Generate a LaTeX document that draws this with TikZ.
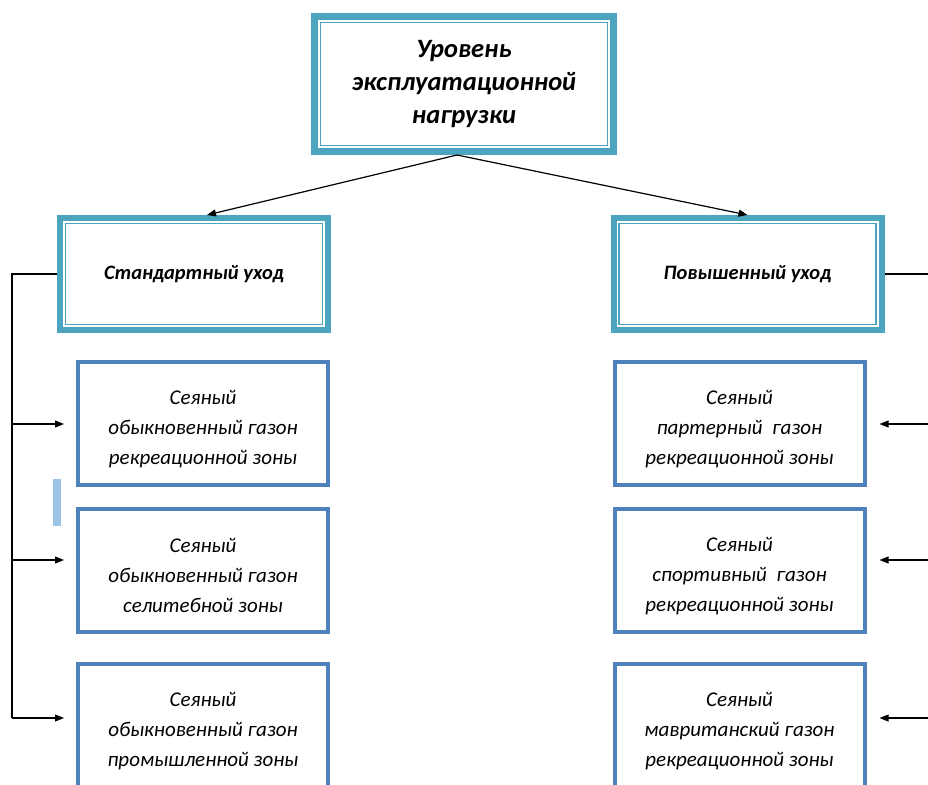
\documentclass[tikz,border=0pt]{standalone}
\usepackage{fontspec}
\setmainfont{Carlito}
\usetikzlibrary{arrows.meta}
\definecolor{tealA}{HTML}{4BA5BF}
\definecolor{blueA}{HTML}{4F81BD}
\definecolor{barA}{HTML}{9DC3E6}
\newcommand{\lfst}{\rule{0pt}{25pt}}
\begin{document}
\begin{tikzpicture}[x=1pt,y=-1pt,
  topbox/.style={draw=tealA, line width=7pt, minimum width=299pt, minimum height=135pt, inner sep=0pt, align=center,
    font=\fontsize{26.5}{33}\selectfont\bfseries\itshape},
  midbox/.style={draw=tealA, line width=6pt, minimum width=268pt, minimum height=112pt, inner sep=0pt, align=center,
    font=\fontsize{20.5}{24}\selectfont\bfseries\itshape},
  leafbox/.style={draw=blueA, line width=4pt, minimum width=250pt, minimum height=123pt, inner sep=0pt, align=center,
    font=\fontsize{21}{30}\selectfont\itshape},
  conn/.style={line width=1.2pt, black},
  arr/.style={conn, -{Triangle[length=9pt,width=7pt]}},
]
\clip (0,0) rectangle (928,784);
\fill[white] (0,0) rectangle (928,784);

% top
\node[topbox] (tb) at (464,84) {Уровень\\эксплуатационной\\нагрузки};
\draw[tealA, line width=1.5pt] ([shift={(9.5,9.5)}]tb.north west) rectangle ([shift={(-9.5,-9.5)}]tb.south east);

% middle
\node[midbox] (lb) at (194,274) {Стандартный уход};
\draw[tealA, line width=1.5pt] ([shift={(8.5,8.5)}]lb.north west) rectangle ([shift={(-8.5,-8.5)}]lb.south east);
\node[midbox] (rb) at (747.5,274) {Повышенный уход};
\draw[tealA, line width=1.5pt] ([shift={(8.5,8.5)}]rb.north west) rectangle ([shift={(-8.5,-8.5)}]rb.south east);

% leaves left
\node[leafbox] (l1) at (203,423.5) {\lfst Сеяный\\обыкновенный газон\\рекреационной зоны};
\node[leafbox] (l2) at (203,570.5) {\lfst Сеяный\\обыкновенный газон\\селитебной зоны};
\node[leafbox] (l3) at (203,725.5) {\lfst Сеяный\\обыкновенный газон\\промышленной зоны};
% leaves right
\node[leafbox] (r1) at (739.5,423.5) {\lfst Сеяный\\партерный~ газон\\рекреационной зоны};
\node[leafbox] (r2) at (739.5,570.5) {\lfst Сеяный\\спортивный~ газон\\рекреационной зоны};
\node[leafbox] (r3) at (739.5,725.5) {\lfst Сеяный\\мавританский газон\\рекреационной зоны};

% top arrows
\draw[arr] ([xshift=-7pt]tb.south) -- ([xshift=13pt]lb.north);
\draw[arr] ([xshift=-7pt]tb.south) -- (rb.north);

% left connector
\coordinate (lv) at (12,718);
\coordinate (la1) at (12,424);
\coordinate (la2) at (12,560);
\draw[conn] (lb.west) -| (lv);
\draw[arr, shorten >=12pt] (la1) -- (la1 -| l1.west);
\draw[arr, shorten >=12pt] (la2) -- (la2 -| l2.west);
\draw[arr, shorten >=12pt] (lv) -- (lv -| l3.west);

% right connector
\coordinate (rv) at (940,718);
\coordinate (ra1) at (940,424);
\coordinate (ra2) at (940,560);
\draw[conn] (rb.east) -| (rv);
\draw[arr, shorten >=13pt] (ra1) -- (ra1 -| r1.east);
\draw[arr, shorten >=13pt] (ra2) -- (ra2 -| r2.east);
\draw[arr, shorten >=13pt] (rv) -- (rv -| r3.east);

% light bar
\fill[barA] (53,479) rectangle (61,526);
\end{tikzpicture}
\end{document}
